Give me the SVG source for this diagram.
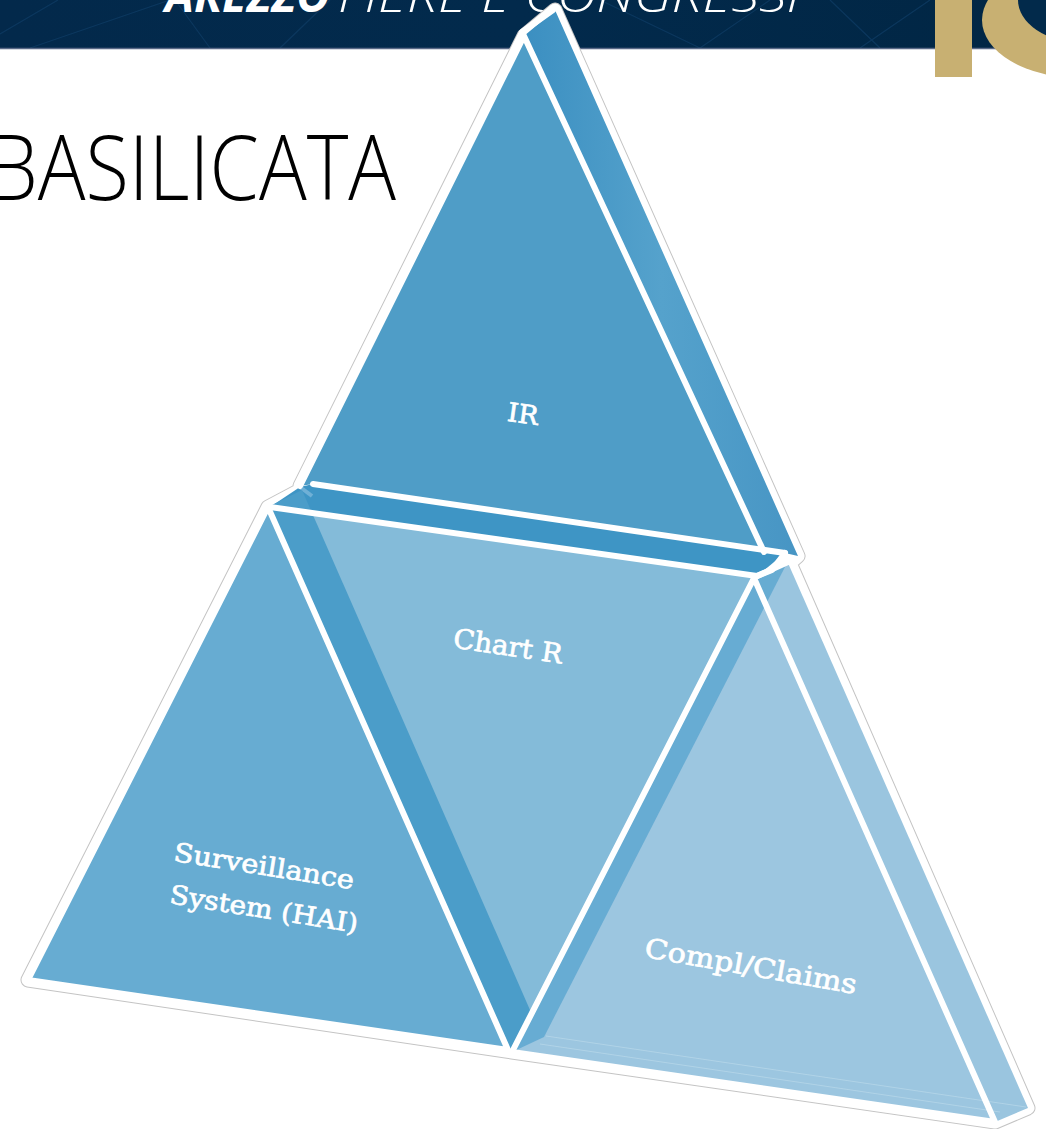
<svg xmlns="http://www.w3.org/2000/svg" width="1046" height="1129" viewBox="0 0 1046 1129">
  <defs>
    <style>
      .edge { fill: none; stroke: #ffffff; stroke-width: 6; stroke-linejoin: round; stroke-linecap: round; }
      .label { fill: #ffffff; stroke: #ffffff; stroke-width: 0.7; font-family: "DejaVu Serif", "Liberation Serif", serif; text-anchor: middle; dominant-baseline: central; }
      .faint { fill: none; stroke: #b9d8ea; stroke-width: 1; opacity: 0.7; }
    </style>
    <linearGradient id="navy" x1="0" y1="0" x2="1" y2="0">
      <stop offset="0" stop-color="#03294b"/>
      <stop offset="0.5" stop-color="#022a4c"/>
      <stop offset="1" stop-color="#012644"/>
    </linearGradient>
    <linearGradient id="irSide" x1="0" y1="0" x2="1" y2="0">
      <stop offset="0" stop-color="#3b8fc1"/>
      <stop offset="0.5" stop-color="#55a2cc"/>
      <stop offset="1" stop-color="#4795c4"/>
    </linearGradient>
  </defs>

  <rect width="1046" height="1129" fill="#ffffff"/>

  <!-- header band -->
  <g id="header">
    <rect x="0" y="0" width="1046" height="48" fill="url(#navy)"/>
    <g stroke="#0e3b63" stroke-width="1.2" opacity="0.8" fill="none">
      <line x1="0" y1="34" x2="58" y2="0"/>
      <line x1="30" y1="48" x2="170" y2="0"/>
      <line x1="175" y1="0" x2="210" y2="48"/>
      <line x1="280" y1="48" x2="330" y2="0"/>
      <line x1="600" y1="0" x2="700" y2="48"/>
      <line x1="700" y1="48" x2="770" y2="0"/>
      <line x1="830" y1="0" x2="880" y2="48"/>
      <line x1="860" y1="48" x2="930" y2="0"/>
    </g>
    <line x1="0" y1="48.5" x2="1046" y2="48.5" stroke="#5a6a88" stroke-width="1.5"/>
    <text x="165" y="12" font-family="'Open Sans', 'Liberation Sans', sans-serif" font-size="46" font-weight="bold" font-style="italic" fill="#ffffff" textLength="165" lengthAdjust="spacingAndGlyphs">AREZZO</text>
    <text x="338" y="12" font-family="'Open Sans', 'Liberation Sans', sans-serif" font-size="46" font-weight="300" font-style="italic" fill="#ffffff" textLength="462" lengthAdjust="spacingAndGlyphs">FIERE E CONGRESSI</text>
    <!-- gold "10" mark -->
    <rect x="935" y="0" width="37" height="77" fill="#c8b072"/>
    <ellipse cx="1080" cy="20" rx="98" ry="58" fill="#c8b072"/>
    <ellipse cx="1080" cy="0" rx="62" ry="42" fill="#022a4b"/>
  </g>

  <!-- title -->
  <text x="-12" y="200" font-family="'Open Sans', 'Liberation Sans', sans-serif" font-size="90" font-weight="300" fill="#000000" textLength="408" lengthAdjust="spacingAndGlyphs">BASILICATA</text>

  <!-- outer halo around the whole pyramid -->
  <g id="halo">
    <polygon points="300,486 524,36 555,10 798,556 790,563 1028,1108 995,1122 512,1052 28,980 268,507 300,490" fill="#ffffff" stroke="#c4c4c4" stroke-width="15" stroke-linejoin="round"/>
    <polygon points="300,486 524,36 555,10 798,556 790,563 1028,1108 995,1122 512,1052 28,980 268,507 300,490" fill="#ffffff" stroke="#ffffff" stroke-width="13" stroke-linejoin="round"/>
  </g>

  <!-- middle inverted prism -->
  <g id="node-chart">
    <polygon points="270,507 757,576 510,1050" fill="#84bbd9"/>
    <polygon points="270,507 300,487 313,484 785,553 757,576" fill="#3e95c5"/>
    <line x1="300" y1="487" x2="312" y2="496" stroke="#6fb0d6" stroke-width="4"/>
    <text class="label" font-size="27" textLength="110" lengthAdjust="spacingAndGlyphs" x="508" y="646" transform="rotate(8.5 508 646)">Chart R</text>
  </g>

  <!-- bottom-left prism -->
  <g id="node-surveillance">
    <polygon points="268,507 28,980 508,1050" fill="#67acd2"/>
    <polygon points="268,507 302,490 541,1035 508,1050" fill="#4b9dc9"/>
    <text class="label" font-size="26" textLength="182" lengthAdjust="spacingAndGlyphs" x="264" y="866" transform="rotate(9 264 866)">Surveillance</text>
    <text class="label" font-size="26" textLength="190" lengthAdjust="spacingAndGlyphs" x="264" y="909" transform="rotate(9 264 909)">System (HAI)</text>
  </g>

  <!-- bottom-right prism -->
  <g id="node-compl">
    <polygon points="754,578 512,1052 995,1122" fill="#9cc6e0"/>
    <polygon points="754,578 788,563 1028,1108 995,1122" fill="#9ac5df"/>
    <polygon points="754,578 786,565 544,1037 512,1052" fill="#5ea7d0" opacity="0.85"/>
    <line class="faint" x1="546" y1="1036" x2="1026" y2="1107"/>
    <line class="faint" x1="540" y1="1044" x2="1000" y2="1112"/>
    <text class="label" font-size="27" textLength="215" lengthAdjust="spacingAndGlyphs" x="751" y="966" transform="rotate(10 751 966)">Compl/Claims</text>
  </g>

  <!-- top prism -->
  <g id="node-ir">
    <polygon points="524,36 300,486 313,484 764,550" fill="#4f9dc7"/>
    <polygon points="524,36 555,10 798,556 785,553 764,552" fill="url(#irSide)"/>
    <text class="label" font-size="26" textLength="31" lengthAdjust="spacingAndGlyphs" x="523" y="414" transform="rotate(8 523 414)">IR</text>
  </g>

  <!-- white rims of all faces -->
  <g id="rims">
    <polyline class="edge" points="300,486 524,36 764,552"/>
    <line class="edge" x1="522" y1="32" x2="553" y2="10"/>
    <line class="edge" x1="313" y1="484" x2="785" y2="553"/>
    <line class="edge" x1="270" y1="507" x2="757" y2="576"/>
    <polyline class="edge" points="785,553 772,570 757,576"/>
    <polyline class="edge" points="268,507 28,980 508,1050 268,507"/>
    <polyline class="edge" points="754,578 512,1052 995,1122 754,578"/>
    <line class="edge" x1="757" y1="576" x2="788" y2="562"/>
  </g>
</svg>
